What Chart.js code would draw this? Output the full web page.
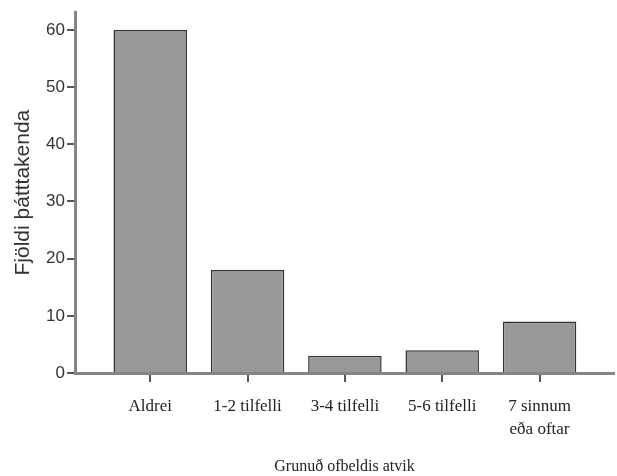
<!DOCTYPE html>
<html>
<head>
<meta charset="utf-8">
<script src="https://cdn.jsdelivr.net/npm/chart.js@4.4.0/dist/chart.umd.min.js"></script>
<style>
  html, body { margin: 0; padding: 0; background: #fff; }
  #wrap { width: 617px; height: 476px; }
</style>
</head>
<body>
<div id="wrap"><canvas id="chart" width="617" height="476"></canvas></div>
<script>
const categories = ['Aldrei', '1-2 tilfelli', '3-4 tilfelli', '5-6 tilfelli', ['7 sinnum', 'eða oftar']];
const counts = [60, 18, 3, 4, 9];
const yTicks = [0, 10, 20, 30, 40, 50, 60];

const ctx = document.getElementById('chart').getContext('2d');
new Chart(ctx, {
    type: 'bar',
    data: {
        datasets: [{
            data: counts.map((v, i) => ({ x: i, y: v })),
            backgroundColor: '#999999',
            borderColor: '#333333',
            borderWidth: 1.5,
            borderSkipped: 'bottom',
            categoryPercentage: 1,
            barPercentage: 0.755
        }]
    },
    options: {
        responsive: false,
        animation: false,
        layout: { padding: { top: 7, right: 3, left: 0, bottom: 0 } },
        plugins: {
            legend: { display: false },
            tooltip: { enabled: false }
        },
        scales: {
            x: {
                type: 'linear',
                offset: false,
                min: -0.773,
                max: 4.765,
                afterBuildTicks: scale => {
                    scale.ticks = categories.map((_, i) => ({ value: i }));
                },
                afterFit: scale => { scale.height = 103; },
                border: { color: '#858585', width: 3 },
                grid: {
                    offset: false,
                    drawOnChartArea: false,
                    drawTicks: true,
                    tickLength: 9,
                    color: '#555555',
                    lineWidth: 2
                },
                ticks: {
                    includeBounds: false,
                    autoSkip: false,
                    maxRotation: 0,
                    padding: 13,
                    color: '#222222',
                    font: { family: 'Liberation Serif', size: 17, lineHeight: 1.35 },
                    callback: value => categories[value]
                },
                title: {
                    display: true,
                    text: 'Grunuð ofbeldis atvik',
                    color: '#222222',
                    font: { family: 'Liberation Serif', size: 16 },
                    padding: { top: 2, bottom: 0 }
                }
            },
            y: {
                min: 0,
                max: 63.1,
                afterBuildTicks: scale => {
                    scale.ticks = yTicks.map(v => ({ value: v }));
                },
                afterFit: scale => { scale.width = 75; },
                border: { color: '#858585', width: 3 },
                grid: {
                    drawOnChartArea: false,
                    drawTicks: true,
                    tickLength: 8,
                    color: '#555555',
                    lineWidth: 2
                },
                ticks: {
                    includeBounds: false,
                    padding: 2,
                    color: '#333333',
                    font: { family: 'Liberation Sans', size: 17 }
                },
                title: {
                    display: true,
                    text: 'Fjöldi þátttakenda',
                    color: '#333333',
                    font: { family: 'Liberation Sans', size: 21 },
                    padding: { top: 11, bottom: 0 }
                }
            }
        }
    }
});
</script>
</body>
</html>
